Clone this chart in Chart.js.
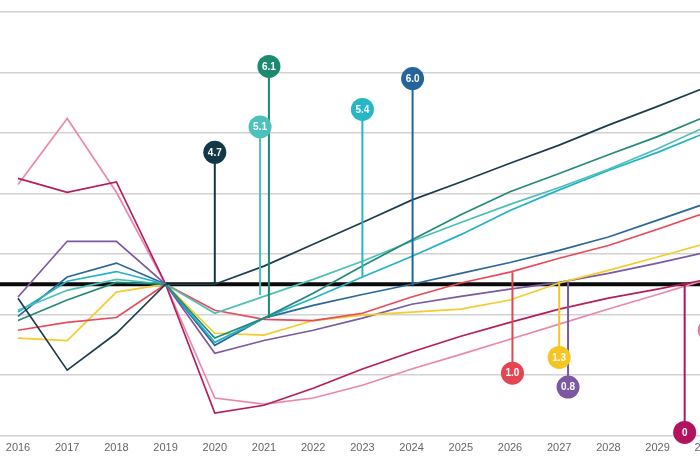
<!DOCTYPE html>
<html>
<head>
<meta charset="utf-8">
<script src="https://cdn.jsdelivr.net/npm/chart.js@4.4.1/dist/chart.umd.min.js"></script>
<style>
  html, body { margin: 0; padding: 0; background: #fff; }
  #wrap { width: 700px; height: 467px; position: relative; }
</style>
</head>
<body>
<div id="wrap"><canvas id="chart"></canvas></div>
<script>
// index, 2019 = 100
const years = [2016, 2017, 2018, 2019, 2020, 2021, 2022, 2023, 2024, 2025, 2026, 2027, 2028, 2029, 2030];

const navy      = [97.7, 85.8, 91.9, 100, 100, 103.0, 106.6, 110.2, 113.9, 116.9, 120.0, 123.0, 126.3, 129.4, 132.6];
const tealGreen = [94.0, 97.4, 100.3, 100, 91.1, 94.4, 98.5, 103.0, 107.3, 111.5, 115.3, 118.3, 121.4, 124.4, 127.8];
const lightTeal = [95.7, 99.0, 100.8, 100, 95.2, 98.0, 100.8, 103.8, 107.1, 110.2, 113.2, 116.0, 119.0, 122.4, 126.1];
const turquoise = [95.4, 100.5, 102.1, 100, 90.4, 94.4, 97.7, 101.2, 104.6, 108.2, 112.2, 115.6, 118.8, 121.8, 125.1];
const blue      = [94.7, 101.2, 103.5, 100, 89.9, 94.4, 96.5, 98.3, 100.0, 101.8, 103.6, 105.6, 107.8, 110.6, 113.4];
const red       = [92.4, 93.7, 94.5, 100, 95.7, 94.2, 94.0, 95.2, 97.9, 100.2, 102.0, 104.3, 106.4, 109.1, 111.9];
const yellow    = [91.1, 90.7, 98.7, 100, 91.9, 91.6, 94.0, 94.9, 95.4, 95.9, 97.4, 100.2, 102.3, 104.5, 106.8];
const purple    = [97.9, 107.1, 107.1, 100, 88.6, 90.7, 92.4, 94.4, 96.7, 98.0, 99.2, 100.3, 101.8, 103.5, 105.3];
const magenta   = [117.5, 115.2, 116.9, 100, 78.7, 80.0, 82.8, 86.0, 88.8, 91.4, 93.7, 95.9, 97.7, 99.2, 100.8];
const pink      = [116.5, 127.4, 115.2, 100, 81.2, 80.2, 81.2, 83.3, 86.0, 88.4, 90.9, 93.4, 95.9, 98.3, 100.8];

// 2019 level, runs across the whole plot
const baseYears = [2015, 2031];
const baseline  = [100, 100];

// markers: where the stem stands, where it starts and where the dot sits
const markYears  = [2020, 2020.92, 2021.1, 2023, 2024.02, 2026.05, 2027, 2027.18, 2029.55, 2030.05];
const markFrom   = [100, 98.2, 94.4, 101.2, 99.8, 102.0, 100.4, 100.4, 100, 100];
const markTo     = [121.8, 126.0, 136.0, 128.9, 134.0, 85.3, 87.9, 83.0, 75.5, 92.4];
const markLabels = ['4.7', '5.1', '6.1', '5.4', '6.0', '1.0', '1.3', '0.8', '0', ''];
const markColors = ['#123746', '#4cc2bf', '#1b8a70', '#26b6c8', '#24649a', '#e54453', '#f7c51f', '#7b58a0', '#b3125f', '#e8779e'];

const series = [
  [navy, '#1c3d4c'],
  [tealGreen, '#23897a'],
  [lightTeal, '#4cbfb7'],
  [turquoise, '#22b3c6'],
  [blue, '#2d679a'],
  [red, '#e84a5b'],
  [yellow, '#f5cb2e'],
  [purple, '#7b5aa0'],
  [magenta, '#b51d5e'],
  [pink, '#ea88aa']
];

const datasets = [];

datasets.push({
  data: baseYears.map((x, i) => ({ x, y: baseline[i] })),
  borderColor: '#0a0a0a',
  borderWidth: 4,
  pointRadius: 0,
  order: 20
});

series.forEach(([vals, color]) => {
  datasets.push({
    data: years.map((x, i) => ({ x, y: vals[i] })),
    borderColor: color,
    borderWidth: 1.7,
    pointRadius: 0,
    tension: 0,
    order: 10
  });
});

markYears.forEach((x, i) => {
  datasets.push({
    data: [{ x, y: markFrom[i] }, { x, y: markTo[i] }],
    borderColor: markColors[i],
    borderWidth: 2,
    pointRadius: [0, 11.5],
    pointBackgroundColor: markColors[i],
    pointBorderWidth: 0,
    order: 0,
    clip: false,
    tag: markLabels[i]
  });
});

const markText = {
  id: 'markText',
  afterDatasetsDraw(chart) {
    const ctx = chart.ctx;
    chart.data.datasets.forEach((ds, i) => {
      if (ds.tag === undefined || ds.tag === '') return;
      const p = chart.getDatasetMeta(i).data[1];
      ctx.save();
      ctx.fillStyle = '#ffffff';
      ctx.font = 'bold 10px "Liberation Sans", Arial, sans-serif';
      ctx.textAlign = 'center';
      ctx.textBaseline = 'middle';
      ctx.fillText(ds.tag, p.x, p.y + 0.5);
      ctx.restore();
    });
  }
};

new Chart(document.getElementById('chart').getContext('2d'), {
  type: 'line',
  data: { datasets },
  options: {
    responsive: true,
    maintainAspectRatio: false,
    animation: false,
    layout: { autoPadding: false, padding: { top: 12, left: 0, right: 0, bottom: 0 } },
    plugins: {
      legend: { display: false },
      tooltip: { enabled: false }
    },
    scales: {
      x: {
        type: 'linear',
        min: 2016 - 18 / 49.2,
        max: 2016 + 682 / 49.2,
        grid: { display: false, drawTicks: false },
        border: { display: false },
        afterBuildTicks: axis => { axis.ticks = years.map(v => ({ value: v })); },
        afterFit: axis => {
          axis.height = 31.5;
          axis.paddingLeft = 0;
          axis.paddingRight = 0;
        },
        ticks: {
          autoSkip: false,
          maxRotation: 0,
          padding: 6,
          color: '#666666',
          font: { family: '"Liberation Sans", Arial, sans-serif', size: 11 },
          callback: v => String(v)
        }
      },
      y: {
        min: 75,
        max: 145,
        afterFit: axis => { axis.width = 0; },
        ticks: { display: false, stepSize: 10 },
        border: { display: false },
        grid: { color: '#d2d2d2', lineWidth: 1.5, drawTicks: false }
      }
    }
  },
  plugins: [markText]
});
</script>
</body>
</html>
